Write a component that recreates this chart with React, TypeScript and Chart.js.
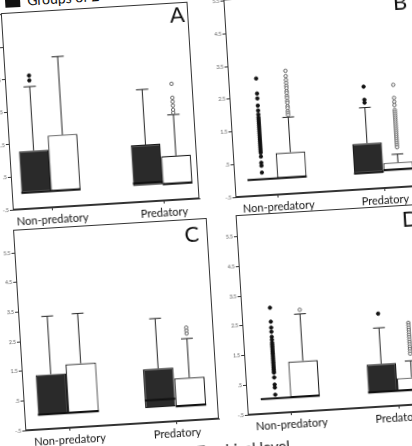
import React, { useEffect, useRef } from 'react';
import { Chart, registerables } from 'chart.js';

Chart.register(...registerables);

const CATEGORIES = ['Non-predatory', 'Predatory'];
const Y_TICKS = [-0.5, 0.5, 1.5, 2.5, 3.5, 4.5, 5.5];
const PANEL_LETTERS = ['A', 'B', 'C', 'D'];
const LEGEND_TEXT = 'Groups of 2';
const CAPTION_TEXT = 'Trophical level';

// ---- Panel A ----
const A_DARK_Q1 = [0, 0];
const A_DARK_MED = [0, 0.08];
const A_DARK_Q3 = [1.28, 1.25];
const A_DARK_HI = [3.25, 2.95];
const A_DARK_OUT = [[3.44, 3.59], []];
const A_WHITE_Q1 = [0, 0];
const A_WHITE_MED = [0, 0];
const A_WHITE_Q3 = [1.71, 0.86];
const A_WHITE_HI = [4.12, 2.12];
const A_WHITE_OUT = [[], [2.18, 2.27, 2.4, 2.52, 2.64, 3.07]];

// ---- Panel B ----
const B_DARK_Q1 = [0, 0];
const B_DARK_MED = [0, 0];
const B_DARK_Q3 = [0, 0.9];
const B_DARK_HI = [0, 1.99];
const B_DARK_OUT = [
  [3.08, 2.62, 2.47, 2.25, 2.1, 1.98, 1.89, 1.83, 1.77, 1.71, 1.65, 1.59, 1.53, 1.47, 1.41, 1.35, 1.29, 1.23, 1.17, 1.11, 1.05, 0.99, 0.93, 0.87, 0.81, 0.69, 0.5, 0.41, 0.2],
  [2.63, 2.23, 2.14],
];
const B_WHITE_Q1 = [0, 0.04];
const B_WHITE_MED = [0, 0.04];
const B_WHITE_Q3 = [0.77, 0.26];
const B_WHITE_HI = [1.84, 0.51];
const B_WHITE_OUT = [
  [3.26, 3.1, 2.98, 2.89, 2.8, 2.73, 2.64, 2.58, 2.49, 2.43, 2.34, 2.28, 2.18, 2.12, 2.03, 1.97, 1.91],
  [2.63, 2.23, 2.11, 2.01, 1.86, 1.8, 1.74, 1.68, 1.62, 1.56, 1.5, 1.44, 1.38, 1.32, 1.26, 1.2, 1.14, 1.08, 1.02, 0.96, 0.9, 0.84, 0.78, 0.72],
];

// ---- Panel C ----
const C_DARK_Q1 = [0, 0];
const C_DARK_MED = [0, 0.26];
const C_DARK_Q3 = [1.34, 1.31];
const C_DARK_HI = [3.3, 3.0];
const C_DARK_OUT = [[], []];
const C_WHITE_Q1 = [0, 0];
const C_WHITE_MED = [0, 0];
const C_WHITE_Q3 = [1.64, 0.94];
const C_WHITE_HI = [3.33, 2.26];
const C_WHITE_OUT = [[], [2.43, 2.53, 2.63]];

// ---- Panel D ----
const D_DARK_Q1 = [0, 0];
const D_DARK_MED = [0, 0];
const D_DARK_Q3 = [0, 0.94];
const D_DARK_HI = [0, 2.15];
const D_DARK_OUT = [
  [3.05, 2.58, 2.38, 2.24, 2.07, 1.97, 1.87, 1.81, 1.75, 1.69, 1.63, 1.57, 1.51, 1.45, 1.39, 1.33, 1.27, 1.21, 1.15, 1.09, 1.03, 0.97, 0.91, 0.86, 0.7, 0.46, 0.36, 0.12],
  [2.63],
];
const D_WHITE_Q1 = [0, 0];
const D_WHITE_MED = [0, 0];
const D_WHITE_Q3 = [1.2, 0.42];
const D_WHITE_HI = [2.78, 0.98];
const D_WHITE_OUT = [
  [2.92],
  [2.26, 2.18, 2.1, 2.02, 1.94, 1.86, 1.78, 1.7, 1.62, 1.54, 1.46, 1.38, 1.3, 1.22],
];

type Series = { q1: number[]; med: number[]; q3: number[]; hi: number[]; out: number[][] };

const PANELS: { dark: Series; white: Series }[] = [
  {
    dark: { q1: A_DARK_Q1, med: A_DARK_MED, q3: A_DARK_Q3, hi: A_DARK_HI, out: A_DARK_OUT },
    white: { q1: A_WHITE_Q1, med: A_WHITE_MED, q3: A_WHITE_Q3, hi: A_WHITE_HI, out: A_WHITE_OUT },
  },
  {
    dark: { q1: B_DARK_Q1, med: B_DARK_MED, q3: B_DARK_Q3, hi: B_DARK_HI, out: B_DARK_OUT },
    white: { q1: B_WHITE_Q1, med: B_WHITE_MED, q3: B_WHITE_Q3, hi: B_WHITE_HI, out: B_WHITE_OUT },
  },
  {
    dark: { q1: C_DARK_Q1, med: C_DARK_MED, q3: C_DARK_Q3, hi: C_DARK_HI, out: C_DARK_OUT },
    white: { q1: C_WHITE_Q1, med: C_WHITE_MED, q3: C_WHITE_Q3, hi: C_WHITE_HI, out: C_WHITE_OUT },
  },
  {
    dark: { q1: D_DARK_Q1, med: D_DARK_MED, q3: D_DARK_Q3, hi: D_DARK_HI, out: D_DARK_OUT },
    white: { q1: D_WHITE_Q1, med: D_WHITE_MED, q3: D_WHITE_Q3, hi: D_WHITE_HI, out: D_WHITE_OUT },
  },
];

// ---- layout (unrotated page coordinates of each plot area) ----
const LAYOUT = [
  { left: 14, top: 1, right: 204, bottom: 198, yMax: 5.56, xMin: -0.35, xMax: 1.32, boxW: 0.265, lx: 190, ly: 14 },
  { left: 237, top: 1, right: 431, bottom: 199, yMax: 5.55, xMin: -0.4, xMax: 1.39, boxW: 0.278, lx: 413, ly: 15 },
  { left: 13, top: 218, right: 210, bottom: 419, yMax: 6.28, xMin: -0.41, xMax: 1.395, boxW: 0.284, lx: 191, ly: 234 },
  { left: 236, top: 217, right: 433, bottom: 417, yMax: 6.23, xMin: -0.404, xMax: 1.4, boxW: 0.275, lx: 410, ly: 232 },
];
const Y_AXIS_W = 20;
const X_AXIS_H = 26;
const PAD_TOP = 5;
const PAD_RIGHT = 2;
const CAP_HALF = 0.055;
const ROTATION = -3.5;

const DARK_FILL = '#2a2a2a';
const EDGE = '#1a1a1a';
const LINE = '#222';
const FONT = 'Lato, "Liberation Sans", sans-serif';

const fmtTick = (v: number) => String(v).replace('0.', '.');

function makeDatasets(dark: Series, white: Series, boxW: number) {
  const half = boxW / 2;
  const series = [
    { s: dark, sign: -1, fill: DARK_FILL, outFill: '#111', outEdge: '#111' },
    { s: white, sign: 1, fill: '#ffffff', outFill: '#ffffff', outEdge: '#555' },
  ];
  const bars = series.map(({ s, fill }) => ({
    type: 'bar',
    data: CATEGORIES.map((_, i) => ({ x: i, y: [s.q1[i], s.q3[i]] })),
    backgroundColor: fill,
    borderColor: EDGE,
    borderWidth: 1.2,
    borderSkipped: false,
    categoryPercentage: boxW * 2,
    barPercentage: 1,
    order: 3,
  }));
  const whisk: any[] = [];
  const meds: any[] = [];
  series.forEach(({ s, sign }) => {
    CATEGORIES.forEach((_, i) => {
      const cx = i + sign * half;
      if (s.hi[i] > s.q3[i]) {
        whisk.push(
          { x: cx, y: s.q3[i] },
          { x: cx, y: s.hi[i] },
          { x: cx, y: null },
          { x: cx - CAP_HALF, y: s.hi[i] },
          { x: cx + CAP_HALF, y: s.hi[i] },
          { x: cx, y: null }
        );
      }
      meds.push({ x: cx - half, y: s.med[i] }, { x: cx + half, y: s.med[i] }, { x: cx, y: null });
    });
  });
  const lines = [
    { type: 'line', data: whisk, borderColor: LINE, borderWidth: 1, pointRadius: 0, fill: false, spanGaps: false, tension: 0, order: 2 },
    { type: 'line', data: meds, borderColor: '#111', borderWidth: 2, pointRadius: 0, fill: false, spanGaps: false, tension: 0, order: 2 },
  ];
  const outs = series.map(({ s, sign, outFill, outEdge }) => ({
    type: 'scatter',
    data: CATEGORIES.flatMap((_, i) => s.out[i].map((v) => ({ x: i + sign * half, y: v }))),
    pointRadius: 1.7,
    pointBackgroundColor: outFill,
    pointBorderColor: outEdge,
    pointBorderWidth: 0.9,
    showLine: false,
    order: 1,
  }));
  return [...bars, ...lines, ...outs];
}

const framePlugin = {
  id: 'frame',
  afterDraw(chart: any) {
    const { ctx, chartArea } = chart;
    const l = Math.round(chartArea.left) + 0.5;
    const t = Math.round(chartArea.top) + 0.5;
    const r = Math.round(chartArea.right) - 0.5;
    const b = Math.round(chartArea.bottom) - 0.5;
    ctx.save();
    ctx.strokeStyle = '#333';
    ctx.lineWidth = 1;
    ctx.strokeRect(l, t, r - l, b - t);
    ctx.restore();
  },
};

function BoxPanel({ idx }: { idx: number }) {
  const ref = useRef<HTMLCanvasElement>(null);
  const L = LAYOUT[idx];
  const w = L.right - L.left + Y_AXIS_W + PAD_RIGHT;
  const h = L.bottom - L.top + PAD_TOP + X_AXIS_H;

  useEffect(() => {
    const P = PANELS[idx];
    const chart = new Chart(ref.current as HTMLCanvasElement, {
      type: 'bar',
      data: { datasets: makeDatasets(P.dark, P.white, L.boxW) as any },
      options: {
        animation: false,
        responsive: false,
        events: [],
        layout: { padding: { top: PAD_TOP, right: PAD_RIGHT, left: 0, bottom: 0 } },
        plugins: { legend: { display: false }, tooltip: { enabled: false } },
        scales: {
          x: {
            type: 'linear',
            min: L.xMin,
            max: L.xMax,
            offset: false,
            afterBuildTicks: (a: any) => {
              a.ticks = CATEGORIES.map((_, i) => ({ value: i }));
            },
            afterFit: (a: any) => {
              a.height = X_AXIS_H;
            },
            ticks: {
              callback: (v: any) => CATEGORIES[v] ?? '',
              font: { family: FONT, size: 11 },
              color: '#111',
              padding: 3,
              maxRotation: 0,
              autoSkip: false,
            },
            grid: { display: true, offset: false, drawOnChartArea: false, drawTicks: true, tickLength: 3, color: '#333' },
            border: { display: true, color: '#333' },
          },
          y: {
            type: 'linear',
            min: -0.5,
            max: L.yMax,
            beginAtZero: false,
            afterBuildTicks: (a: any) => {
              a.ticks = Y_TICKS.filter((v) => v <= L.yMax).map((v) => ({ value: v }));
            },
            afterFit: (a: any) => {
              a.width = Y_AXIS_W;
            },
            ticks: {
              callback: (v: any) => fmtTick(v),
              font: { family: FONT, size: 5 },
              color: '#555',
              padding: 1,
            },
            grid: { display: true, drawOnChartArea: false, drawTicks: true, tickLength: 3, color: '#333' },
            border: { display: true, color: '#333' },
          },
        },
      } as any,
      plugins: [framePlugin],
    });
    return () => chart.destroy();
  }, [idx]);

  return (
    <canvas
      ref={ref}
      width={w}
      height={h}
      style={{ position: 'absolute', left: L.left - Y_AXIS_W, top: L.top - PAD_TOP, width: w, height: h, display: 'block' }}
    />
  );
}

export default function App() {
  return (
    <div style={{ position: 'fixed', left: 0, top: 0, width: 412, height: 446, overflow: 'hidden', background: '#fff' }}>
      <div
        style={{
          position: 'absolute',
          left: 0,
          top: 0,
          width: 412,
          height: 446,
          transform: `rotate(${ROTATION}deg)`,
          transformOrigin: '206px 223px',
          fontFamily: FONT,
        }}
      >
        {/* legend (partly cut off at the top) */}
        <div style={{ position: 'absolute', left: 19, top: -19.5, width: 15, height: 15, background: '#111' }} />
        <div style={{ position: 'absolute', left: 41, top: -17, fontSize: 14, lineHeight: '14px', color: '#111', whiteSpace: 'nowrap' }}>
          {LEGEND_TEXT}
        </div>

        {LAYOUT.map((_, i) => (
          <BoxPanel key={i} idx={i} />
        ))}

        {LAYOUT.map((L, i) => (
          <div
            key={'l' + i}
            style={{
              position: 'absolute',
              left: L.lx - 20,
              top: L.ly - 11.6,
              width: 40,
              textAlign: 'center',
              fontSize: 22,
              lineHeight: '22px',
              color: '#111',
            }}
          >
            {PANEL_LETTERS[i]}
          </div>
        ))}

        <div
          style={{
            position: 'absolute',
            left: 76,
            top: 443,
            width: 200,
            textAlign: 'right',
            fontSize: 15,
            lineHeight: '15px',
            color: '#111',
            whiteSpace: 'nowrap',
          }}
        >
          {CAPTION_TEXT}
        </div>
      </div>
    </div>
  );
}
